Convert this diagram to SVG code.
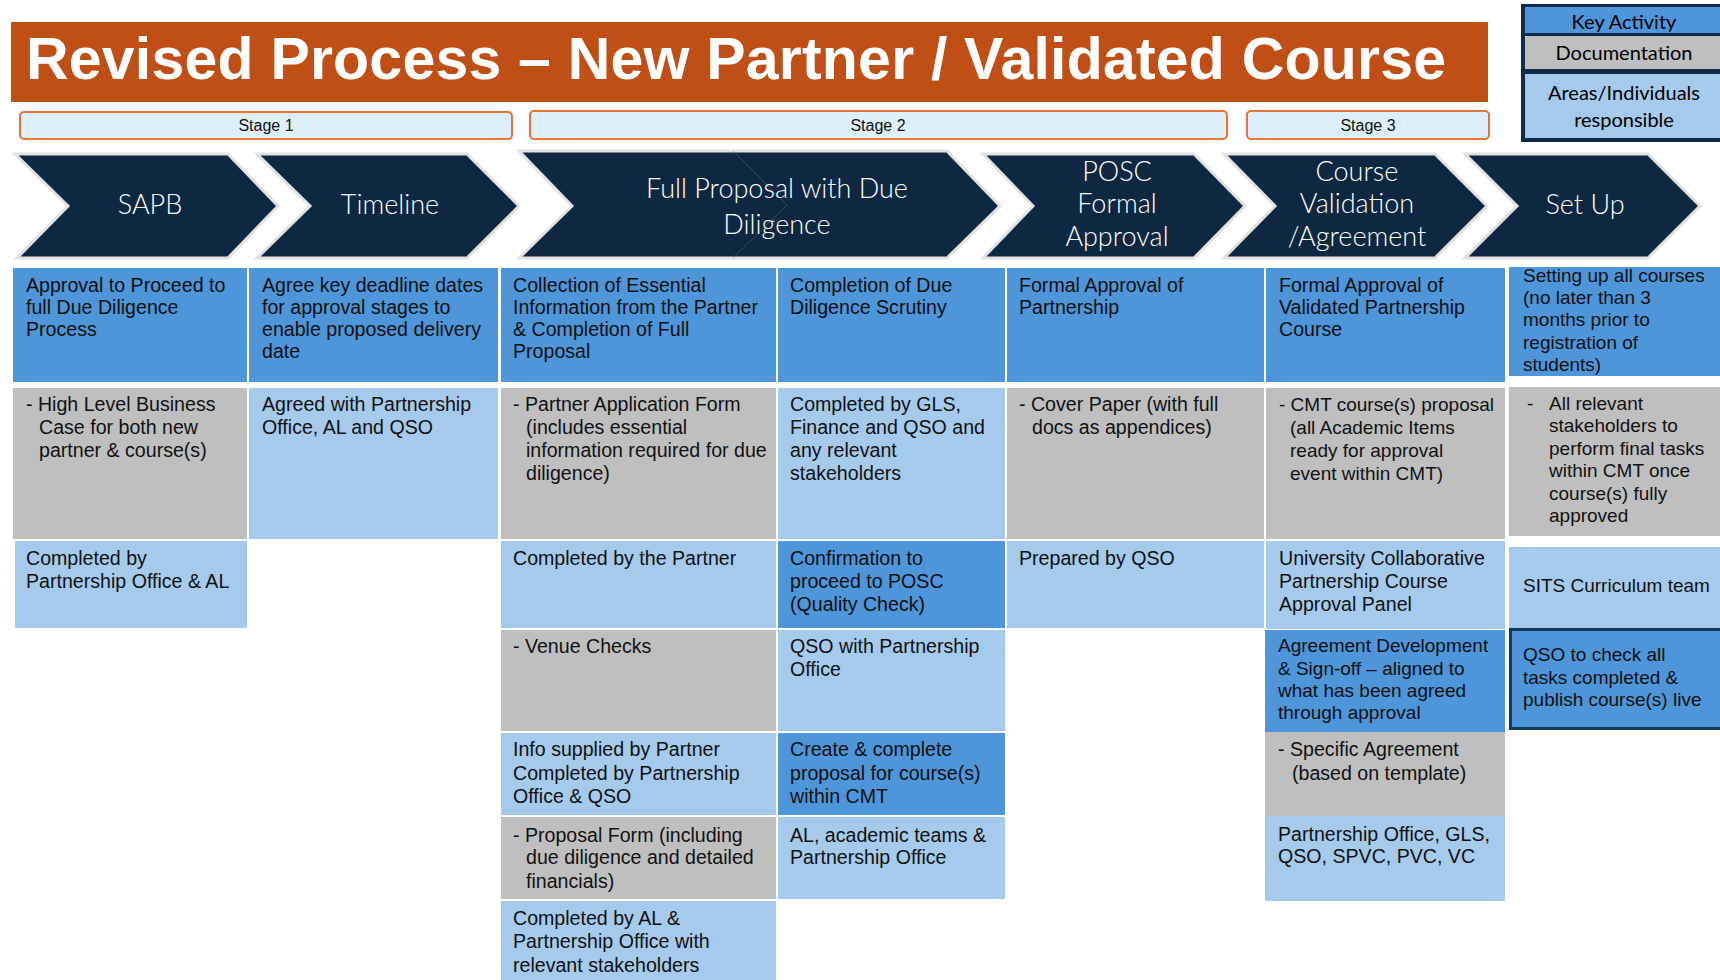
<svg xmlns="http://www.w3.org/2000/svg" width="1720" height="980" viewBox="0 0 1720 980">
  <style>
    .title { font-family: "Liberation Sans", Arial, sans-serif; font-weight: bold; font-size: 59px; fill: #ffffff; }
    .stage { fill: #DDEFF9; stroke: #E97132; stroke-width: 2; }
    .stxt { font-family: "Liberation Sans", Arial, sans-serif; font-size: 16px; fill: #111111; text-anchor: middle; }
    .chev { fill: #0E2841; stroke: #E2E2E2; stroke-width: 3; stroke-linejoin: miter; }
    .ctxt { font-family: Lato, "Open Sans", sans-serif; font-weight: 300; font-size: 27px; fill: #ffffff; text-anchor: middle; }
    .key { fill: #4E95D9; }
    .doc { fill: #BFBFBF; }
    .resp { fill: #A6CAEC; }
    .t { font-family: "Liberation Sans", Arial, sans-serif; font-size: 19.6px; fill: #111111; }
    .s { font-size: 19px; }
    .lg { font-family: Lato, "Open Sans", sans-serif; font-size: 20px; fill: #000000; text-anchor: middle; }
  </style>

  <rect width="1720" height="980" fill="#ffffff"/>

  <!-- Heading banner -->
  <g id="title">
    <rect x="11" y="22" width="1477" height="80" fill="#C04F15"/>
    <text class="title" x="26" y="79" textLength="1420" lengthAdjust="spacing">Revised Process – New Partner / Validated Course</text>
  </g>

  <!-- Colour key -->
  <g id="legend">
    <rect x="1521" y="4" width="202" height="138" fill="#0F2B46"/>
    <rect x="1525" y="7" width="198" height="26" class="key"/>
    <rect x="1525" y="36" width="198" height="33" class="doc"/>
    <rect x="1525" y="74" width="198" height="64" class="resp"/>
    <text class="lg" x="1624" y="29">Key Activity</text>
    <text class="lg" x="1624" y="60">Documentation</text>
    <text class="lg" x="1624" y="100">Areas/Individuals</text>
    <text class="lg" x="1624" y="127">responsible</text>
  </g>

  <!-- Stage bands -->
  <g id="stage1">
    <rect class="stage" x="20" y="112" width="492" height="27" rx="4"/>
    <text class="stxt" x="266" y="131">Stage 1</text>
  </g>
  <g id="stage2">
    <rect class="stage" x="530" y="111" width="697" height="28" rx="4"/>
    <text class="stxt" x="878" y="131">Stage 2</text>
  </g>
  <g id="stage3">
    <rect class="stage" x="1247" y="111" width="242" height="28" rx="4"/>
    <text class="stxt" x="1368" y="131">Stage 3</text>
  </g>

  <!-- Process chevrons -->
  <g id="step-sapb">
    <polygon class="chev" points="15,154 228,154 278,206 228,258 17,258 68,206"/>
    <text class="ctxt" x="150" y="214">SAPB</text>
  </g>
  <g id="step-timeline">
    <polygon class="chev" points="257,154 467,154 519,206 467,258 257,258 310,206"/>
    <text class="ctxt" x="390" y="214">Timeline</text>
  </g>
  <g id="step-full-proposal">
    <polygon class="chev" points="519,151 947,151 1000,206 947,258 519,258 572,206"/>
    <polyline points="733,151 787,205 733,258" fill="none" stroke="#5A6D82" stroke-width="0.8" opacity="0.6"/>
    <text class="ctxt" x="777" y="198">Full Proposal with Due</text>
    <text class="ctxt" x="777" y="234">Diligence</text>
  </g>
  <g id="step-posc">
    <polygon class="chev" points="983,154 1194,154 1245,206 1194,258 983,258 1033,206"/>
    <text class="ctxt" x="1117" y="181">POSC</text>
    <text class="ctxt" x="1117" y="213">Formal</text>
    <text class="ctxt" x="1117" y="246">Approval</text>
  </g>
  <g id="step-validation">
    <polygon class="chev" points="1224,154 1435,154 1487,206 1435,258 1224,258 1275,206"/>
    <text class="ctxt" x="1357" y="181">Course</text>
    <text class="ctxt" x="1357" y="213">Validation</text>
    <text class="ctxt" x="1357" y="246">/Agreement</text>
  </g>
  <g id="step-setup">
    <polygon class="chev" points="1465,154 1648,154 1700,206 1648,258 1465,258 1517,206"/>
    <text class="ctxt" x="1585" y="214">Set Up</text>
  </g>

  <!-- Column 1: SAPB -->
  <g id="sapb-activity">
    <rect class="key" x="13" y="268" width="234" height="114"/>
    <text class="t" x="26" y="292">Approval to Proceed to</text>
    <text class="t" x="26" y="314">full Due Diligence</text>
    <text class="t" x="26" y="336">Process</text>
  </g>
  <g id="sapb-docs">
    <rect class="doc" x="13" y="388" width="234" height="151"/>
    <text class="t" x="26" y="411">- High Level Business</text>
    <text class="t" x="39" y="434">Case for both new</text>
    <text class="t" x="39" y="457">partner &amp; course(s)</text>
  </g>
  <g id="sapb-owner">
    <rect class="resp" x="15" y="541" width="232" height="87"/>
    <text class="t" x="26" y="565">Completed by</text>
    <text class="t" x="26" y="588">Partnership Office &amp; AL</text>
  </g>

  <!-- Column 2: Timeline -->
  <g id="timeline-activity">
    <rect class="key" x="249" y="268" width="249" height="114"/>
    <text class="t" x="262" y="292">Agree key deadline dates</text>
    <text class="t" x="262" y="314">for approval stages to</text>
    <text class="t" x="262" y="336">enable proposed delivery</text>
    <text class="t" x="262" y="358">date</text>
  </g>
  <g id="timeline-owner">
    <rect class="resp" x="249" y="388" width="249" height="151"/>
    <text class="t" x="262" y="411">Agreed with Partnership</text>
    <text class="t" x="262" y="434">Office, AL and QSO</text>
  </g>

  <!-- Column 3: Full proposal, collection -->
  <g id="collect-activity">
    <rect class="key" x="501" y="268" width="275" height="114"/>
    <text class="t" x="513" y="292">Collection of Essential</text>
    <text class="t" x="513" y="314">Information from the Partner</text>
    <text class="t" x="513" y="336">&amp; Completion of Full</text>
    <text class="t" x="513" y="358">Proposal</text>
  </g>
  <g id="collect-docs">
    <rect class="doc" x="501" y="388" width="275" height="151"/>
    <text class="t" x="513" y="411">- Partner Application Form</text>
    <text class="t" x="526" y="434">(includes essential</text>
    <text class="t" x="526" y="457">information required for due</text>
    <text class="t" x="526" y="480">diligence)</text>
  </g>
  <g id="collect-owner">
    <rect class="resp" x="501" y="541" width="275" height="87"/>
    <text class="t" x="513" y="565">Completed by the Partner</text>
  </g>
  <g id="venue-docs">
    <rect class="doc" x="501" y="630" width="275" height="101"/>
    <text class="t" x="513" y="653">- Venue Checks</text>
  </g>
  <g id="venue-owner">
    <rect class="resp" x="501" y="733" width="275" height="82"/>
    <text class="t" x="513" y="756">Info supplied by Partner</text>
    <text class="t" x="513" y="780">Completed by Partnership</text>
    <text class="t" x="513" y="803">Office &amp; QSO</text>
  </g>
  <g id="proposal-docs">
    <rect class="doc" x="501" y="817" width="275" height="82"/>
    <text class="t" x="513" y="842">- Proposal Form (including</text>
    <text class="t" x="526" y="864">due diligence and detailed</text>
    <text class="t" x="526" y="888">financials)</text>
  </g>
  <g id="proposal-owner">
    <rect class="resp" x="501" y="901" width="275" height="79"/>
    <text class="t" x="513" y="925">Completed by AL &amp;</text>
    <text class="t" x="513" y="948">Partnership Office with</text>
    <text class="t" x="513" y="972">relevant stakeholders</text>
  </g>

  <!-- Column 4: Full proposal, scrutiny -->
  <g id="scrutiny-activity">
    <rect class="key" x="778" y="268" width="227" height="114"/>
    <text class="t" x="790" y="292">Completion of Due</text>
    <text class="t" x="790" y="314">Diligence Scrutiny</text>
  </g>
  <g id="scrutiny-owner">
    <rect class="resp" x="778" y="388" width="227" height="151"/>
    <text class="t" x="790" y="411">Completed by GLS,</text>
    <text class="t" x="790" y="434">Finance and QSO and</text>
    <text class="t" x="790" y="457">any relevant</text>
    <text class="t" x="790" y="480">stakeholders</text>
  </g>
  <g id="quality-check">
    <rect class="key" x="778" y="541" width="227" height="87"/>
    <text class="t" x="790" y="565">Confirmation to</text>
    <text class="t" x="790" y="588">proceed to POSC</text>
    <text class="t" x="790" y="611">(Quality Check)</text>
  </g>
  <g id="quality-owner">
    <rect class="resp" x="778" y="630" width="227" height="101"/>
    <text class="t" x="790" y="653">QSO with Partnership</text>
    <text class="t" x="790" y="676">Office</text>
  </g>
  <g id="cmt-proposal">
    <rect class="key" x="778" y="733" width="227" height="82"/>
    <text class="t" x="790" y="756">Create &amp; complete</text>
    <text class="t" x="790" y="780">proposal for course(s)</text>
    <text class="t" x="790" y="803">within CMT</text>
  </g>
  <g id="cmt-owner">
    <rect class="resp" x="778" y="817" width="227" height="82"/>
    <text class="t" x="790" y="842">AL, academic teams &amp;</text>
    <text class="t" x="790" y="864">Partnership Office</text>
  </g>

  <!-- Column 5: POSC -->
  <g id="posc-activity">
    <rect class="key" x="1007" y="268" width="257" height="114"/>
    <text class="t" x="1019" y="292">Formal Approval of</text>
    <text class="t" x="1019" y="314">Partnership</text>
  </g>
  <g id="posc-docs">
    <rect class="doc" x="1007" y="388" width="257" height="151"/>
    <text class="t" x="1019" y="411">- Cover Paper (with full</text>
    <text class="t" x="1032" y="434">docs as appendices)</text>
  </g>
  <g id="posc-owner">
    <rect class="resp" x="1007" y="541" width="257" height="87"/>
    <text class="t" x="1019" y="565">Prepared by QSO</text>
  </g>

  <!-- Column 6: Validation / agreement -->
  <g id="validation-activity">
    <rect class="key" x="1266" y="268" width="239" height="114"/>
    <text class="t" x="1279" y="292">Formal Approval of</text>
    <text class="t" x="1279" y="314">Validated Partnership</text>
    <text class="t" x="1279" y="336">Course</text>
  </g>
  <g id="validation-docs">
    <rect class="doc" x="1266" y="388" width="239" height="151"/>
    <text class="t s" x="1279" y="411">- CMT course(s) proposal</text>
    <text class="t s" x="1290" y="434">(all Academic Items</text>
    <text class="t s" x="1290" y="457">ready for approval</text>
    <text class="t s" x="1290" y="480">event within CMT)</text>
  </g>
  <g id="validation-owner">
    <rect class="resp" x="1266" y="541" width="239" height="88"/>
    <text class="t" x="1279" y="565">University Collaborative</text>
    <text class="t" x="1279" y="588">Partnership Course</text>
    <text class="t" x="1279" y="611">Approval Panel</text>
  </g>
  <g id="agreement-activity">
    <rect class="key" x="1265" y="630" width="240" height="102"/>
    <text class="t s" x="1278" y="652">Agreement Development</text>
    <text class="t s" x="1278" y="675">&amp; Sign-off – aligned to</text>
    <text class="t s" x="1278" y="697">what has been agreed</text>
    <text class="t s" x="1278" y="719">through approval</text>
  </g>
  <g id="agreement-docs">
    <rect class="doc" x="1265" y="732" width="240" height="84"/>
    <text class="t" x="1278" y="756">- Specific Agreement</text>
    <text class="t" x="1292" y="780">(based on template)</text>
  </g>
  <g id="agreement-owner">
    <rect class="resp" x="1265" y="816" width="240" height="85"/>
    <text class="t" x="1278" y="841">Partnership Office, GLS,</text>
    <text class="t" x="1278" y="863">QSO, SPVC, PVC, VC</text>
  </g>

  <!-- Column 7: Set up -->
  <g id="setup-activity">
    <rect class="key" x="1509" y="267" width="211" height="109"/>
    <text class="t s" x="1523" y="282">Setting up all courses</text>
    <text class="t s" x="1523" y="304">(no later than 3</text>
    <text class="t s" x="1523" y="326">months prior to</text>
    <text class="t s" x="1523" y="349">registration of</text>
    <text class="t s" x="1523" y="371">students)</text>
  </g>
  <g id="setup-docs">
    <rect class="doc" x="1509" y="387" width="211" height="149"/>
    <text class="t s" x="1527" y="410">-</text>
    <text class="t s" x="1549" y="410">All relevant</text>
    <text class="t s" x="1549" y="432">stakeholders to</text>
    <text class="t s" x="1549" y="455">perform final tasks</text>
    <text class="t s" x="1549" y="477">within CMT once</text>
    <text class="t s" x="1549" y="500">course(s) fully</text>
    <text class="t s" x="1549" y="522">approved</text>
  </g>
  <g id="setup-owner">
    <rect class="resp" x="1509" y="547" width="211" height="81"/>
    <text class="t s" x="1523" y="592">SITS Curriculum team</text>
  </g>
  <g id="publish-live">
    <rect class="key" x="1510.5" y="629.5" width="212" height="99" stroke="#0F3A5C" stroke-width="3"/>
    <text class="t s" x="1523" y="661">QSO to check all</text>
    <text class="t s" x="1523" y="684">tasks completed &amp;</text>
    <text class="t s" x="1523" y="706">publish course(s) live</text>
  </g>
</svg>
